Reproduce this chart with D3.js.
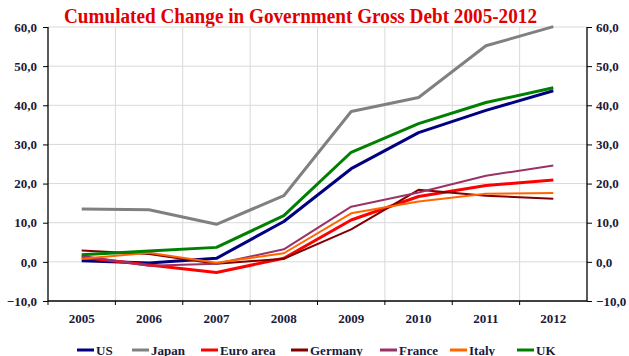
<!DOCTYPE html>
<html>
<head>
<meta charset="utf-8">
<script src="https://cdn.jsdelivr.net/npm/d3@7"></script>
<style>
  body { margin: 0; background: #fff; }
  text { font-family: "Liberation Serif", "Times New Roman", serif; }
</style>
</head>
<body>
<svg id="chart"></svg>
<script>
// --------------------- data ---------------------
const years = ["2005", "2006", "2007", "2008", "2009", "2010", "2011", "2012"];
const yTicks = [-10, 0, 10, 20, 30, 40, 50, 60];

const us       = [0.3, -0.3, 0.9, 10.3, 23.8, 33.0, 38.7, 43.7];
const japan    = [13.5, 13.3, 9.6, 16.9, 38.4, 42.0, 55.2, 60.1];
const euroArea = [1.2, -0.8, -2.7, 0.9, 10.7, 16.7, 19.5, 20.9];
const germany  = [2.9, 2.0, -0.5, 0.8, 8.3, 18.4, 16.9, 16.1];
const france   = [1.5, -1.0, -0.5, 3.2, 14.1, 17.7, 22.0, 24.6];
const italy    = [0.8, 2.3, -0.2, 2.2, 12.4, 15.4, 17.4, 17.6];
const uk       = [1.8, 2.8, 3.7, 11.8, 28.0, 35.3, 40.7, 44.5];

const series = [
  { name: "US", values: us, color: "#000080", w: 3 },
  { name: "Japan", values: japan, color: "#808080", w: 3 },
  { name: "Euro area", values: euroArea, color: "#ff0000", w: 3 },
  { name: "Germany", values: germany, color: "#800000", w: 2 },
  { name: "France", values: france, color: "#993366", w: 2 },
  { name: "Italy", values: italy, color: "#ff6600", w: 2 },
  { name: "UK", values: uk, color: "#008000", w: 3 }
];

// --------------------- layout ---------------------
const width = 629, height = 356;
const plotLeft = 48, plotRight = 587, plotTop = 27, plotBottom = 301;

const svg = d3.select("#chart").attr("width", width).attr("height", height);

const xScale = d3.scaleBand().domain(years).range([plotLeft, plotRight]);
const yScale = d3.scaleLinear().domain([-10, 60]).range([plotBottom, plotTop]);

// title
svg.append("text")
  .attr("x", 64).attr("y", 22.5)
  .attr("textLength", 473).attr("lengthAdjust", "spacingAndGlyphs")
  .style("font-size", "20px").style("font-weight", "bold")
  .attr("fill", "#e00000")
  .text("Cumulated Change in Government Gross Debt 2005-2012");

// horizontal grid
svg.append("g").selectAll("line")
  .data(yTicks.filter(d => d > -10))
  .join("line")
  .attr("x1", plotLeft).attr("x2", plotRight)
  .attr("y1", d => yScale(d)).attr("y2", d => yScale(d))
  .attr("stroke", "#d9d9d9").attr("stroke-width", 1);

// vertical grid at category boundaries
svg.append("g").selectAll("line")
  .data(years.slice(1))
  .join("line")
  .attr("x1", d => xScale(d)).attr("x2", d => xScale(d))
  .attr("y1", plotTop).attr("y2", plotBottom)
  .attr("stroke", "#d9d9d9").attr("stroke-width", 1);

// axes
const fmt = d => d3.format(".1f")(d).replace(".", ",");

const axisLeft = svg.append("g")
  .attr("transform", "translate(" + plotLeft + ",0)")
  .call(d3.axisLeft(yScale).tickValues(yTicks).tickSize(5).tickPadding(6).tickFormat(fmt));

const axisRight = svg.append("g")
  .attr("transform", "translate(" + plotRight + ",0)")
  .call(d3.axisRight(yScale).tickValues(yTicks).tickSize(5).tickPadding(4).tickFormat(fmt));

const axisBottom = svg.append("g")
  .attr("transform", "translate(0," + plotBottom + ")")
  .call(d3.axisBottom(xScale).tickSize(0).tickPadding(13));

[axisLeft, axisRight, axisBottom].forEach(g => {
  g.attr("font-family", null);
  g.select(".domain").attr("stroke", "#000").attr("stroke-width", 1.3);
  g.selectAll(".tick line").attr("stroke", "#000");
  g.selectAll("text")
    .style("font-size", "13px").style("font-weight", "bold")
    .attr("fill", "#1a1a3a");
});
axisLeft.select(".domain").attr("d", "M0," + plotTop + "V" + plotBottom);
axisRight.select(".domain").attr("d", "M0," + plotTop + "V" + plotBottom);
axisBottom.select(".domain").attr("d", "M" + plotLeft + ",0H" + plotRight);

// bottom ticks at boundaries
svg.append("g").selectAll("line")
  .data(years)
  .join("line")
  .attr("x1", d => xScale(d)).attr("x2", d => xScale(d))
  .attr("y1", plotBottom).attr("y2", plotBottom + 4)
  .attr("stroke", "#000");

// lines
const line = d3.line()
  .x((d, i) => xScale(years[i]) + xScale.bandwidth() / 2)
  .y(d => yScale(d));

svg.append("g").selectAll("path")
  .data(series)
  .join("path")
  .attr("d", d => line(d.values))
  .attr("fill", "none")
  .attr("stroke", d => d.color)
  .attr("stroke-width", d => d.w)
  .attr("stroke-linejoin", "round");

// legend
const legendX = [77, 132, 201, 291, 380, 450, 517];
const legend = svg.append("g").selectAll("g")
  .data(series)
  .join("g")
  .attr("transform", (d, i) => "translate(" + legendX[i] + ",350)");

legend.append("line")
  .attr("x1", 0).attr("x2", 17)
  .attr("stroke", d => d.color).attr("stroke-width", 3);

legend.append("text")
  .attr("x", 19).attr("y", 4.5)
  .style("font-size", "13px").style("font-weight", "bold")
  .attr("fill", "#1a1a3a")
  .text(d => d.name);
</script>
</body>
</html>
